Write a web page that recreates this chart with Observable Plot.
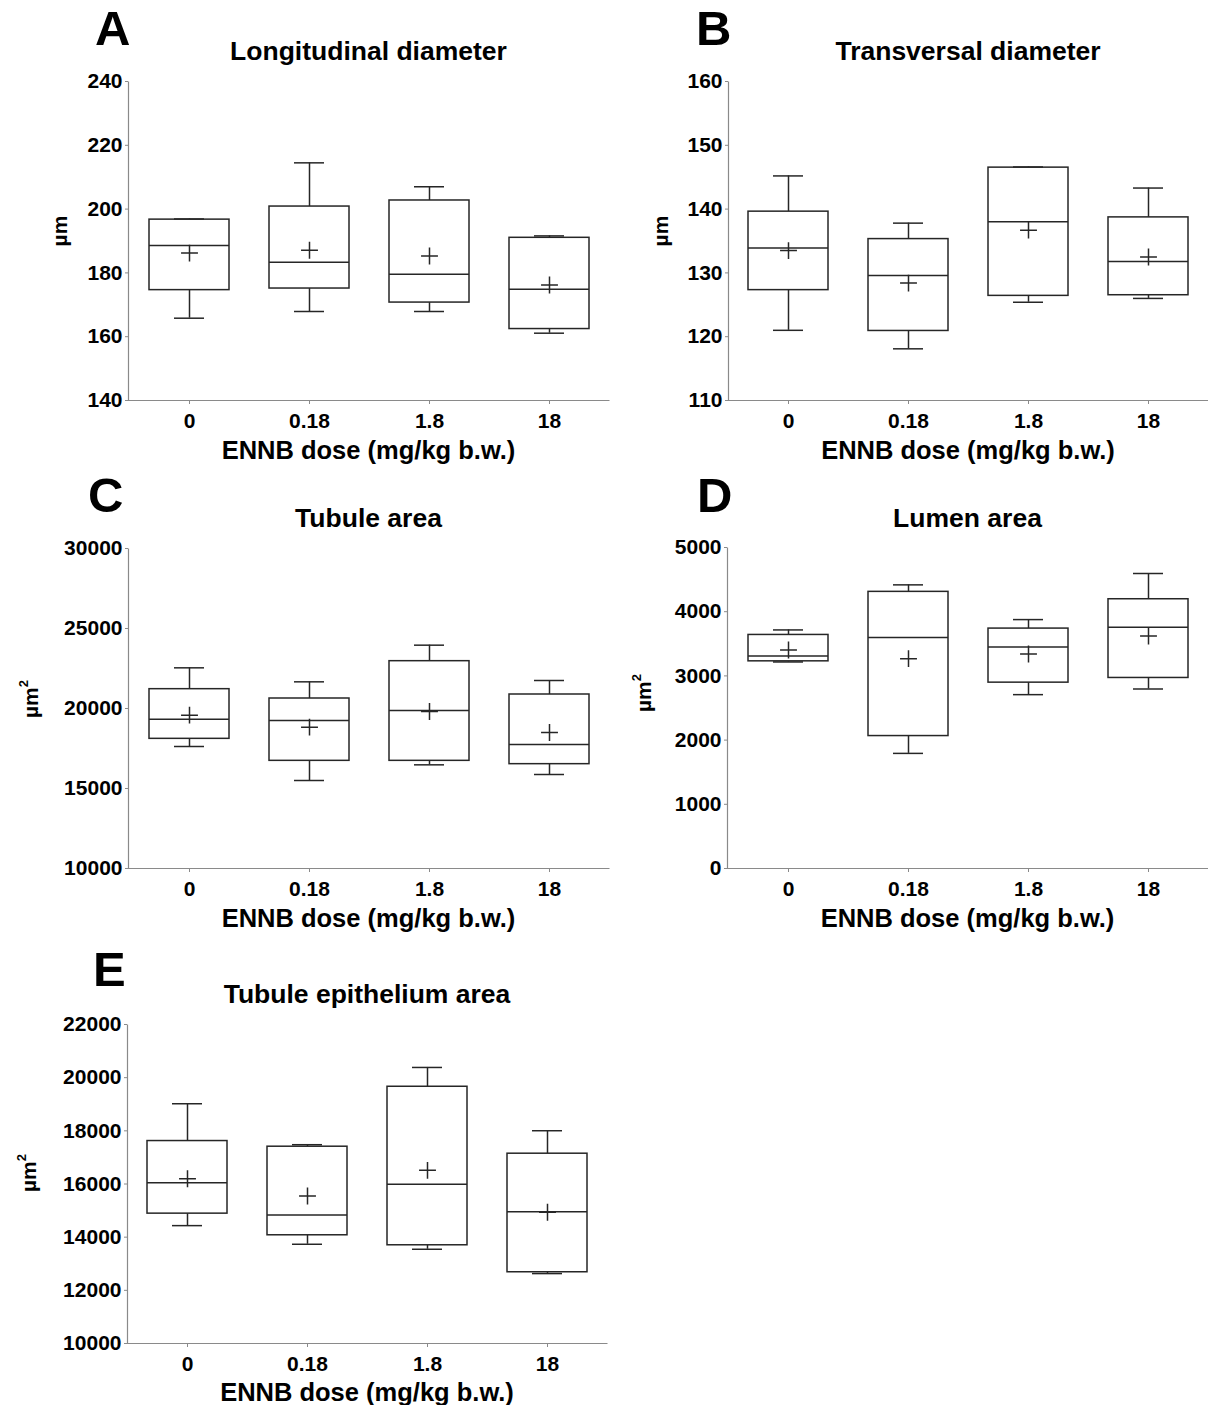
<!DOCTYPE html>
<html><head><meta charset="utf-8">
<script src="https://cdn.jsdelivr.net/npm/d3@7"></script>
<script src="https://cdn.jsdelivr.net/npm/@observablehq/plot@0.6"></script>
<style>
body{margin:0;background:#fff;}
#fig{position:relative;width:1208px;height:1405px;overflow:hidden;font-family:"Liberation Sans",Arial,sans-serif;font-weight:bold;color:#000;}
.abs{position:absolute;white-space:nowrap;line-height:0.9;}
.plot{position:absolute;}
</style></head><body><div id="fig"></div>
<script>
const doses = ["0", "0.18", "1.8", "18"];
const xTitle = "ENNB dose (mg/kg b.w.)";

// A: Longitudinal diameter (µm)
const longMin  = [165.8, 167.9, 167.9, 161.1];
const longQ1   = [174.6, 175.1, 170.7, 162.4];
const longMed  = [188.6, 183.3, 179.6, 174.9];
const longQ3   = [196.7, 200.8, 202.7, 191.0];
const longMax  = [196.9, 214.5, 207.0, 191.6];
const longMean = [186.2, 187.1, 185.3, 176.2];
const longTicks = [140, 160, 180, 200, 220, 240];

// B: Transversal diameter (µm)
const transMin  = [121.0, 118.1, 125.4, 126.0];
const transQ1   = [127.3, 120.9, 126.4, 126.5];
const transMed  = [133.9, 129.6, 138.0, 131.8];
const transQ3   = [139.6, 135.3, 146.5, 138.7];
const transMax  = [145.2, 137.8, 146.6, 143.3];
const transMean = [133.5, 128.4, 136.7, 132.5];
const transTicks = [110, 120, 130, 140, 150, 160];

// C: Tubule area (µm²)
const tubMin  = [17625, 15500, 16479, 15875];
const tubQ1   = [18104, 16729, 16729, 16521];
const tubMed  = [19333, 19250, 19875, 17750];
const tubQ3   = [21208, 20625, 22958, 20875];
const tubMax  = [22542, 21667, 23958, 21750];
const tubMean = [19583, 18833, 19812, 18500];
const tubTicks = [10000, 15000, 20000, 25000, 30000];

// D: Lumen area (µm²)
const lumMin  = [3217, 1793, 2708, 2796];
const lumQ1   = [3227, 2063, 2895, 2968];
const lumMed  = [3311, 3597, 3451, 3758];
const lumQ3   = [3638, 4309, 3737, 4194];
const lumMax  = [3716, 4418, 3877, 4595];
const lumMean = [3404, 3269, 3342, 3622];
const lumTicks = [0, 1000, 2000, 3000, 4000, 5000];

// E: Tubule epithelium area (µm²)
const epiMin  = [14434, 13733, 13545, 12630];
const epiQ1   = [14885, 14071, 13695, 12680];
const epiMed  = [16050, 14835, 15987, 14960];
const epiQ3   = [17616, 17403, 19658, 17140];
const epiMax  = [19019, 17478, 20384, 18004];
const epiMean = [16200, 15549, 16514, 14935];
const epiTicks = [10000, 12000, 14000, 16000, 18000, 20000, 22000];

const fig = document.getElementById("fig");
const BOX = "#262626", AX = "#8a8a8a", SW = 1.5;

function addText(txt, cx, cy, size, opts = {}) {
  const d = document.createElement("div");
  d.className = "abs";
  d.innerHTML = txt;
  d.style.fontSize = size + "px";
  d.style.left = cx + "px";
  d.style.top = cy + "px";
  d.style.transform = (opts.rotate ? "translate(-50%,-50%) rotate(-90deg)" : (opts.left ? "translate(0,-50%)" : "translate(-50%,-50%)"));
  fig.appendChild(d);
}

function panel(cfg, mins, q1s, meds, q3s, maxs, means, ticks) {
  const rows = doses.map((d, i) => ({dose: d, min: mins[i], q1: q1s[i], med: meds[i], q3: q3s[i], max: maxs[i], mean: means[i]}));
  const mt = 12, mb = 60;
  const width = cfg.right - cfg.left;
  const h = cfg.yBottom - cfg.yTop;
  const w = cfg.right - cfg.axisX;
  const chart = Plot.plot({
    width, height: mt + h + mb,
    marginTop: mt, marginBottom: mb,
    marginLeft: cfg.axisX - cfg.left, marginRight: 0,
    style: {fontFamily: '"Liberation Sans", Arial, sans-serif', fontWeight: "bold", fontSize: "21px", background: "transparent", overflow: "visible"},
    x: {type: "band", domain: doses, padding: 0, axis: null},
    y: {domain: [ticks[0], ticks[ticks.length - 1]], axis: null},
    marks: [
      // left + bottom axis lines (frame with only those two sides stroked)
      Plot.frame({stroke: AX, strokeWidth: 1.2, strokeDasharray: `0 ${w + h} ${w + h}`}),
      Plot.ruleX(rows, {x: "dose", y1: "min", y2: "q1", stroke: BOX, strokeWidth: SW}),
      Plot.ruleX(rows, {x: "dose", y1: "q3", y2: "max", stroke: BOX, strokeWidth: SW}),
      Plot.barY(rows, {x: "dose", y1: "q1", y2: "q3", fill: "white", stroke: BOX, strokeWidth: SW, insetLeft: 20, insetRight: 20}),
      Plot.tickY(rows, {x: "dose", y: "med", stroke: BOX, strokeWidth: SW, insetLeft: 20, insetRight: 20}),
      Plot.tickY(rows, {x: "dose", y: "min", stroke: BOX, strokeWidth: SW, insetLeft: 45, insetRight: 45}),
      Plot.tickY(rows, {x: "dose", y: "max", stroke: BOX, strokeWidth: SW, insetLeft: 45, insetRight: 45}),
      Plot.dot(rows, {x: "dose", y: "mean", symbol: "plus", r: 5.5, stroke: BOX, strokeWidth: SW}),
      Plot.axisY({ticks, tickFormat: d3.format("d"), tickSize: 3, tickPadding: 3, stroke: AX, strokeWidth: 1, fill: "#000", fontSize: 21, fontWeight: "bold", label: null}),
      Plot.axisX({tickSize: 4, tickPadding: 9, stroke: AX, strokeWidth: 1, fill: "#000", fontSize: 21, fontWeight: "bold", label: null})
    ]
  });
  chart.classList.add("plot");
  chart.style.left = cfg.left + "px";
  chart.style.top = (cfg.yTop - mt) + "px";
  fig.appendChild(chart);
  const cx = (cfg.axisX + cfg.right) / 2;
  addText(cfg.letter, cfg.letterX, cfg.letterY, 49, {left: true});
  addText(cfg.title, cfg.titleX ?? cx, cfg.titleY, 26.5);
  addText(xTitle, cx, cfg.yBottom + (cfg.xTitleOff ?? 50), 25.5);
  addText(cfg.unit, cfg.unitX, cfg.unitY, 21, {rotate: true});
}

const um = "µm";
const um2 = 'µm<span style="font-size:0.62em;position:relative;top:-0.75em;">2</span>';

panel({letter: "A", letterX: 95, letterY: 28, title: "Longitudinal diameter", titleY: 52, unit: um, unitX: 60, unitY: 231,
  left: 0, axisX: 128, right: 609, yTop: 81, yBottom: 400},
  longMin, longQ1, longMed, longQ3, longMax, longMean, longTicks);
panel({letter: "B", letterX: 696, letterY: 28, title: "Transversal diameter", titleY: 52, unit: um, unitX: 661, unitY: 231,
  left: 600, axisX: 728, right: 1208, yTop: 81, yBottom: 400},
  transMin, transQ1, transMed, transQ3, transMax, transMean, transTicks);
panel({letter: "C", letterX: 88, letterY: 495, title: "Tubule area", titleY: 519, unit: um2, unitX: 31, unitY: 699,
  left: 0, axisX: 128, right: 609, yTop: 548, yBottom: 868},
  tubMin, tubQ1, tubMed, tubQ3, tubMax, tubMean, tubTicks);
panel({letter: "D", letterX: 697, letterY: 495, title: "Lumen area", titleY: 519, unit: um2, unitX: 644, unitY: 693,
  left: 600, axisX: 727, right: 1208, yTop: 547, yBottom: 868},
  lumMin, lumQ1, lumMed, lumQ3, lumMax, lumMean, lumTicks);
panel({letter: "E", letterX: 93, letterY: 969, title: "Tubule epithelium area", titleY: 995, unit: um2, unitX: 29, unitY: 1173,
  left: 0, axisX: 127, right: 607, yTop: 1024, yBottom: 1343, xTitleOff: 48.5},
  epiMin, epiQ1, epiMed, epiQ3, epiMax, epiMean, epiTicks);
</script>
</body></html>
